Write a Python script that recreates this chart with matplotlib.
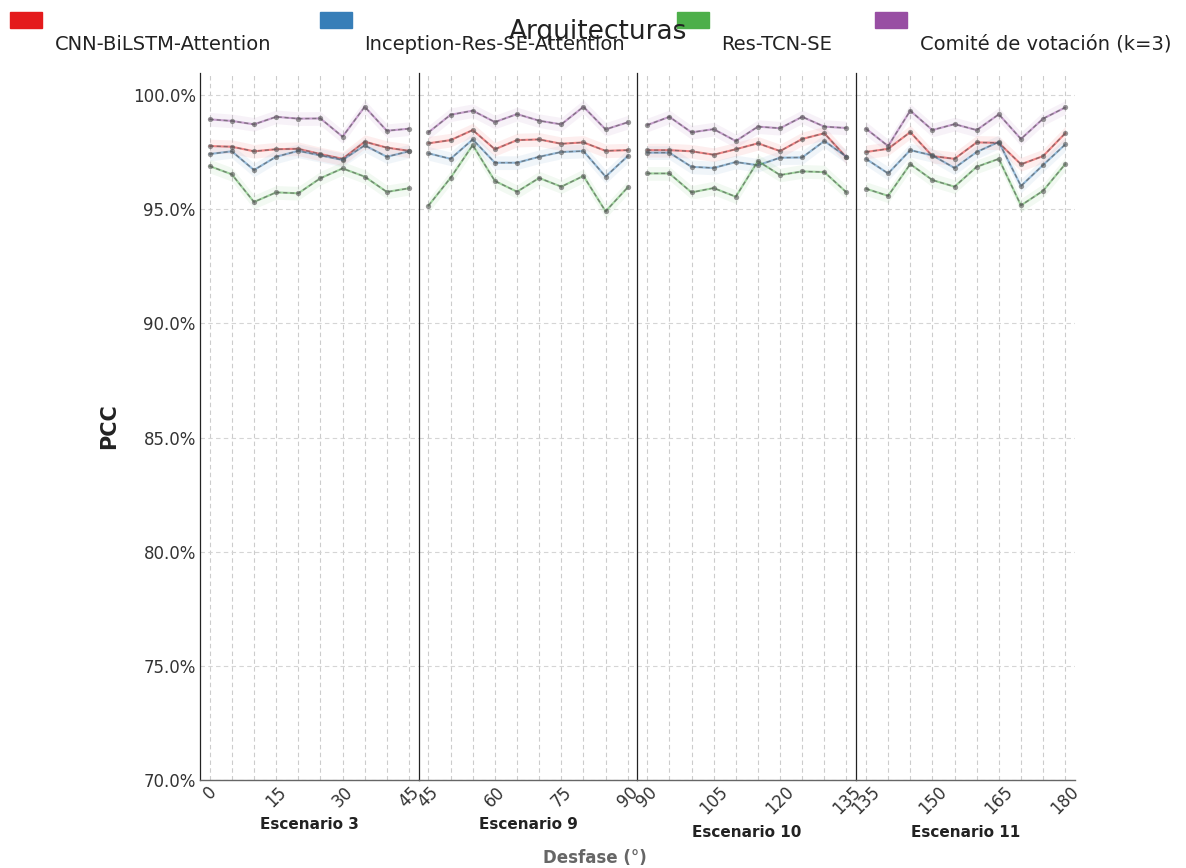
import numpy as np
import matplotlib
matplotlib.use("Agg")
import matplotlib.pyplot as plt
from matplotlib.patches import Rectangle
from matplotlib.ticker import PercentFormatter

# escenarios y desfases (grados)
escenarios = ["Escenario 3", "Escenario 9", "Escenario 10", "Escenario 11"]
inicio = [0, 45, 90, 135]
pasos = [0, 5, 10, 15, 20, 25, 30, 35, 40, 45]

modelos = ["CNN-BiLSTM-Attention", "Inception-Res-SE-Attention", "Res-TCN-SE", "Comité de votación (k=3)"]
colores = ["#e41a1c", "#377eb8", "#4daf4a", "#984ea3"]

# PCC (%) por escenario
cnn = [
    [97.77, 97.74, 97.54, 97.63, 97.65, 97.42, 97.21, 97.96, 97.70, 97.56],
    [97.89, 98.03, 98.47, 97.63, 98.03, 98.06, 97.87, 97.93, 97.56, 97.59],
    [97.59, 97.59, 97.54, 97.39, 97.63, 97.89, 97.55, 98.08, 98.33, 97.27],
    [97.51, 97.65, 98.38, 97.33, 97.21, 97.93, 97.91, 96.97, 97.33, 98.33],
]
inception = [
    [97.42, 97.54, 96.72, 97.30, 97.56, 97.36, 97.16, 97.80, 97.30, 97.54],
    [97.45, 97.21, 98.06, 97.04, 97.04, 97.30, 97.51, 97.55, 96.43, 97.33],
    [97.48, 97.48, 96.86, 96.81, 97.07, 96.93, 97.26, 97.27, 97.99, 97.30],
    [97.21, 96.57, 97.59, 97.36, 96.81, 97.51, 97.95, 96.02, 96.94, 97.84],
]
restcn = [
    [96.89, 96.53, 95.32, 95.74, 95.70, 96.36, 96.79, 96.43, 95.76, 95.92],
    [95.16, 96.38, 97.81, 96.24, 95.77, 96.37, 95.99, 96.46, 94.91, 95.96],
    [96.57, 96.57, 95.74, 95.93, 95.55, 97.11, 96.50, 96.66, 96.63, 95.74],
    [95.90, 95.59, 96.98, 96.28, 95.99, 96.86, 97.21, 95.17, 95.81, 96.98],
]
comite = [
    [98.94, 98.87, 98.72, 99.05, 98.97, 98.98, 98.18, 99.49, 98.44, 98.53],
    [98.37, 99.14, 99.32, 98.82, 99.17, 98.88, 98.72, 99.49, 98.50, 98.81],
    [98.69, 99.05, 98.37, 98.51, 97.99, 98.62, 98.55, 99.05, 98.62, 98.56],
    [98.53, 97.77, 99.32, 98.47, 98.73, 98.47, 99.16, 98.08, 98.97, 99.46],
]
series = [cnn, inception, restcn, comite]
banda = 0.3

fig = plt.figure(figsize=(11.86, 8.68), dpi=100)
gs = fig.add_gridspec(1, 4, left=0.1686, right=0.9064, bottom=0.1014, top=0.9159, wspace=0)
axes = [fig.add_subplot(gs[0, i]) for i in range(4)]

for i, ax in enumerate(axes):
    x = np.array(pasos) + inicio[i]
    for datos, color in zip(series, colores):
        y = np.array(datos[i])
        ax.fill_between(x, y - banda, y + banda, color=color, alpha=0.07, lw=0)
        ax.plot(x, y, color=color, lw=1.5, alpha=0.5)
        ax.plot(x, y, color="#555555", lw=1.0, ls=(0, (3, 2)), alpha=0.6,
                marker="o", ms=3.8, mfc="#555555", mec="none")
    ax.set_xlim(inicio[i] - 2.2, inicio[i] + 47.2)
    ax.set_ylim(70, 100.97)
    ax.set_xticks(x, minor=True)
    ax.set_xticks([inicio[i] + t for t in (0, 15, 30, 45)])
    ax.tick_params(axis="x", which="major", labelrotation=45, labelsize=12,
                   length=0, pad=2, colors="#333333")
    ax.tick_params(axis="x", which="minor", length=0)
    ax.set_yticks([70, 75, 80, 85, 90, 95, 100])
    ax.yaxis.set_major_formatter(PercentFormatter(decimals=1))
    ax.tick_params(axis="y", length=0, labelsize=12, colors="#333333", pad=3)
    if i > 0:
        ax.tick_params(axis="y", labelleft=False)
    ax.grid(True, which="both", axis="x", color="#cccccc", ls=(0, (4, 3)), lw=0.8)
    ax.grid(True, which="major", axis="y", color="#d5d5d5", ls=(0, (4, 3)), lw=0.8)
    ax.set_axisbelow(True)
    for lado in ("top", "right"):
        ax.spines[lado].set_visible(False)
    ax.spines["left"].set_color("#222222")
    ax.spines["left"].set_linewidth(0.9)
    ax.spines["bottom"].set_color("#666666")
    ax.spines["bottom"].set_linewidth(1.0)
    ax.set_xlabel(escenarios[i], fontsize=11, fontweight="bold", color="#222222", labelpad=5)

axes[0].set_ylabel("PCC", fontsize=15, fontweight="bold", color="#222222", labelpad=10)

fig.text(0.5016, 1 - 858 / 868, "Desfase (°)", ha="center", va="center", fontsize=12,
         fontweight="bold", color="#666666")

# leyenda manual arriba
cajas_x = [10, 320, 677, 875]
textos_x = [55, 364, 721, 920]
W, H = 1186, 868
for cx, tx, nombre, color in zip(cajas_x, textos_x, modelos, colores):
    fig.patches.append(Rectangle((cx / W, 1 - 28 / H), 32 / W, 16 / H,
                                 transform=fig.transFigure, color=color, zorder=3))
    fig.text(tx / W, 1 - 44 / H, nombre, ha="left", va="center", fontsize=14, color="#222222")
fig.text(598 / W, 1 - 32 / H, "Arquitecturas", ha="center", va="center", fontsize=19, color="#222222")

fig.savefig("out.png", dpi=100)
